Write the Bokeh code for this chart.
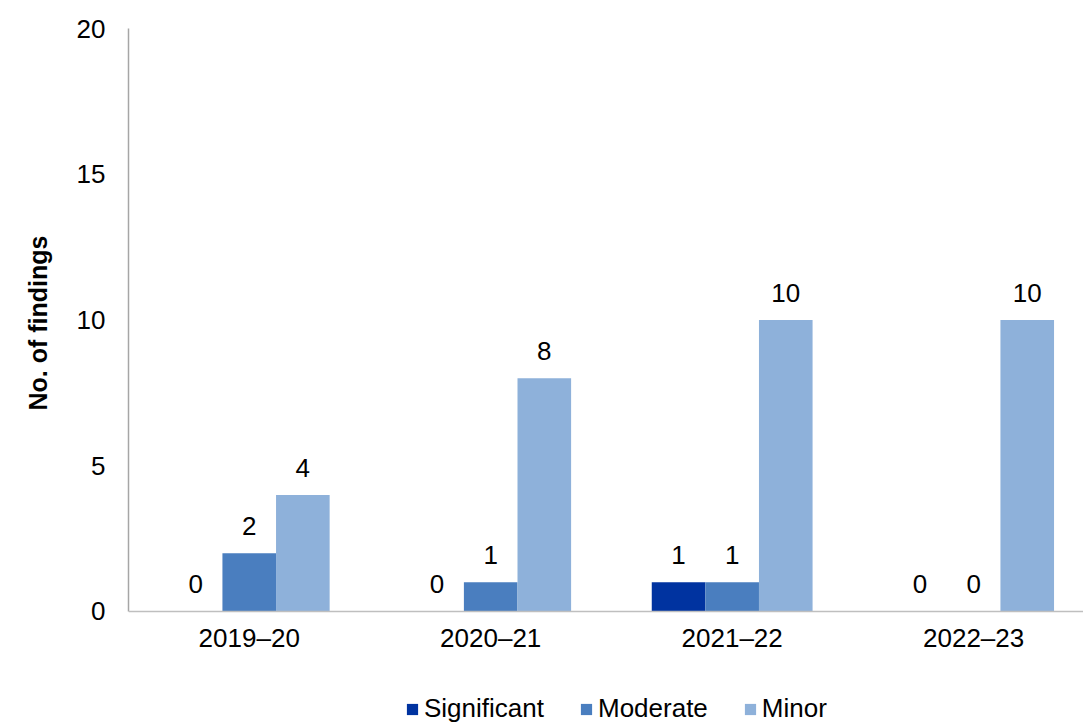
from bokeh.plotting import figure
from bokeh.models import ColumnDataSource, Range1d, FixedTicker, Legend, LegendItem, Span, Title
from bokeh.core.properties import value
from bokeh.embed import file_html
from bokeh.resources import INLINE

categories = ["2019–20", "2020–21", "2021–22", "2022–23"]
significant = [0, 0, 1, 0]
moderate = [2, 1, 1, 0]
minor = [4, 8, 10, 10]
series_names = ["Significant", "Moderate", "Minor"]
colors = ["#0033A0", "#4A7EBF", "#8EB1DA"]
y_ticks = [0, 5, 10, 15, 20]
y_max = 20
y_title = "No. of findings"

FONT = "Liberation Sans"
FS = "26px"
bar_w = 0.222
offsets = [-bar_w, 0.0, bar_w]

# frame spans the whole lower area; values below zero are empty space for axis labels and legend
p = figure(width=1083, height=722, output_backend="svg", toolbar_location=None,
           x_range=Range1d(0, 3.955), y_range=Range1d(-3.808, y_max),
           min_border_left=120, min_border_right=0, min_border_top=28, min_border_bottom=0)
p.outline_line_color = None
p.xgrid.visible = False
p.ygrid.visible = False
p.xaxis.visible = False

centers = [i + 0.5 for i in range(len(categories))]
renderers = []
for vals, off, col in zip([significant, moderate, minor], offsets, colors):
    xs = [c + off for c in centers]
    src = ColumnDataSource(dict(x=xs, top=vals, lab=[str(v) for v in vals]))
    r = p.vbar(x="x", top="top", width=bar_w, bottom=0, source=src,
               fill_color=col, line_color=None)
    renderers.append(r)
    p.text(x="x", y="top", text="lab", source=src, text_align="center",
           text_baseline="alphabetic", y_offset=-27, text_font=value(FONT),
           text_font_size=FS, text_color="#000000")

# category axis (baseline + labels)
p.add_layout(Span(location=0, dimension="width", line_color="#BFBFBF", line_width=1.5))
cat_src = ColumnDataSource(dict(x=centers, y=[0] * len(centers), lab=categories))
p.text(x="x", y="y", text="lab", source=cat_src, text_align="center",
       text_baseline="middle", y_offset=27, text_font=value(FONT),
       text_font_size=FS, text_color="#000000")

p.yaxis.ticker = FixedTicker(ticks=y_ticks)
p.yaxis.bounds = (0, y_max)
p.yaxis.major_tick_line_color = None
p.yaxis.minor_tick_line_color = None
p.yaxis.axis_line_color = "#A6A6A6"
p.yaxis.axis_line_width = 1.5
p.yaxis.major_label_text_font = FONT
p.yaxis.major_label_text_font_size = FS
p.yaxis.major_label_text_color = "#000000"
p.yaxis.major_label_standoff = 17

p.add_layout(Title(text=y_title, align="left", offset=312, standoff=43,
                   text_font=FONT, text_font_size="25px", text_font_style="bold",
                   text_color="#000000"), "left")

legend = Legend(items=[LegendItem(label=n, renderers=[r]) for n, r in zip(series_names, renderers)],
                orientation="horizontal", location=(277, -2),
                label_text_font=FONT, label_text_font_size=FS, label_text_color="#000000",
                glyph_width=14, glyph_height=14, label_standoff=5, spacing=35,
                padding=0, margin=0, border_line_color=None, background_fill_alpha=0)
p.add_layout(legend)

open("out.html", "w").write(file_html(p, INLINE))
